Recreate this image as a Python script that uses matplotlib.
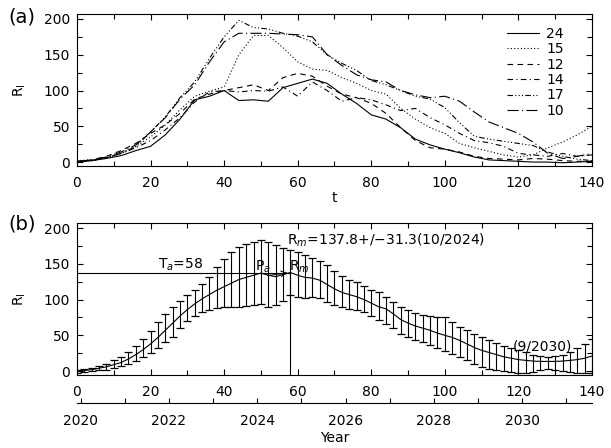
import numpy as np
import matplotlib
matplotlib.use("Agg")
import matplotlib.pyplot as plt
from matplotlib.ticker import MultipleLocator, FixedLocator, NullLocator

# ---------------- data: panel (a) ----------------
t_a = np.arange(0, 141, 4)
c24 = [0, 2, 5, 9, 16, 22, 38, 60, 87, 92, 100, 86, 87, 85, 104, 110, 116, 110,
       95, 82, 66, 60, 48, 32, 24, 18, 13, 7, 3, 2, 1, 0, 0, -1, 0, 1]
c15 = [2, 3, 6, 12, 22, 35, 52, 73, 92, 99, 105, 150, 177, 177, 160, 140, 130, 128,
       118, 110, 100, 95, 75, 60, 48, 40, 26, 20, 15, 10, 7, 10, 20, 28, 38, 50]
c12 = [1, 3, 8, 16, 26, 40, 52, 68, 88, 95, 100, 104, 108, 100, 118, 124, 120, 106,
       95, 90, 82, 68, 48, 30, 20, 18, 14, 8, 5, 4, 3, 5, 4, 2, 1, 1]
c14 = [0, 2, 6, 12, 20, 30, 45, 62, 84, 98, 100, 98, 100, 99, 105, 92, 112, 100,
       85, 90, 87, 80, 72, 75, 62, 52, 40, 30, 27, 22, 12, 10, 8, 12, 8, 10]
c17 = [0, 2, 6, 12, 22, 42, 63, 90, 112, 145, 175, 198, 188, 186, 180, 176, 168, 150,
       138, 128, 114, 108, 100, 92, 88, 76, 55, 36, 32, 29, 26, 23, 14, 8, 4, 2]
c10 = [1, 3, 7, 14, 24, 42, 62, 88, 108, 140, 168, 180, 180, 180, 179, 178, 175, 150,
       135, 122, 115, 112, 100, 94, 90, 92, 85, 70, 56, 48, 40, 28, 12, 5, 8, 12]
cycle_labels = ["24", "15", "12", "14", "17", "10"]

# ---------------- data: panel (b) ----------------
t_b = np.arange(0, 141, 2)
mean_b = [0, 1, 2, 4, 6, 9, 12, 17, 23, 30, 38, 47, 57, 67, 77, 86, 94, 101, 107, 113,
          118, 123, 128, 131, 134, 137, 134, 132, 135, 137.8, 134, 131, 130, 127, 121, 115,
          110, 107, 104, 100, 95, 90, 87, 80, 72, 67, 63, 60, 57, 53, 50, 47, 43, 38, 33,
          29, 26, 23, 20, 18, 16, 15, 14, 13.5, 13.5, 13.5, 14, 15, 16, 18, 21]
upper_b = [2, 3, 5, 7, 10, 15, 20, 27, 35, 45, 56, 68, 80, 90, 98, 106, 113, 122, 132, 145,
           156, 166, 174, 178, 181, 183, 180, 176, 172, 169.1, 166, 162, 158, 154, 148, 140,
           133, 128, 124, 119, 114, 110, 104, 96, 89, 85, 81, 79, 77, 76, 75, 68, 62, 57, 52,
           47, 43, 39, 35, 32, 29, 26, 23, 21, 20, 21, 23, 27, 32, 38, 45]
lower_b = [-2, -1, 0, 1, 2, 5, 7, 10, 14, 19, 25, 32, 40, 48, 60, 70, 77, 82, 86, 88,
           89, 89, 90, 91, 92, 94, 90, 92, 98, 106.5, 104, 102, 104, 102, 97, 92,
           89, 87, 85, 82, 77, 72, 66, 60, 52, 48, 44, 41, 37, 32, 28, 24, 20, 15, 10,
           6, 3, 1, 0, -1, -2, -2, -1, 1, 3, 2, 0, -1, -2, -3, -3]
Ta = 58
Rm = 137.8
dRm = 31.3
Pa_t, Pa_R = 51, 133

years = np.arange(2020, 2032)

# ---------------- figure ----------------
fig = plt.figure(figsize=(6.11, 4.48), dpi=100)
axa = fig.add_axes([0.1260, 0.6295, 0.8429, 0.3393])
axb = fig.add_axes([0.1260, 0.1629, 0.8429, 0.3393])

styles = ["-", (0, (1, 2)), (0, (5, 4)), (0, (5, 3, 1, 3)),
          (0, (5, 2, 1, 2, 1, 2, 1, 2)), (0, (10, 3, 1, 3))]
for series, lab, ls in zip([c24, c15, c12, c14, c17, c10], cycle_labels, styles):
    axa.plot(t_a, series, color="black", lw=0.8, linestyle=ls, label=lab)

axa.legend(loc="upper right", bbox_to_anchor=(0.945, 0.915), frameon=False,
           fontsize=10, handlelength=2.3, handletextpad=0.5, labelspacing=0.1,
           borderpad=0, borderaxespad=0)

mean_arr = np.array(mean_b)
yerr = [mean_arr - np.array(lower_b), np.array(upper_b) - mean_arr]
axb.errorbar(t_b, mean_b, yerr=yerr, color="black", lw=0.8, elinewidth=0.8,
             capsize=3.2, capthick=0.9)

axb.plot([0, Ta], [Rm, Rm], color="black", lw=0.8)
axb.plot([Ta, Ta], [-6, Rm], color="black", lw=0.8)
axb.annotate("", xy=(Ta, Rm), xytext=(Pa_t, Pa_R),
             arrowprops=dict(arrowstyle="->", lw=0.7, color="black"))
axb.text(22, 148, r"T$_a$=58", fontsize=10, va="center")
axb.text(48.5, 146, r"P$_a$", fontsize=10, va="center")
axb.text(57.5, 146, r"R$_m$", fontsize=10, va="center")
axb.text(57, 183, r"R$_m$=137.8+/−31.3(10/2024)", fontsize=10, va="center")
axb.text(118.5, 34, "(9/2030)", fontsize=10, va="center")

for ax in (axa, axb):
    ax.set_xlim(0, 140)
    ax.set_ylim(-5.5, 207)
    ax.xaxis.set_major_locator(MultipleLocator(20))
    ax.xaxis.set_minor_locator(MultipleLocator(10))
    ax.yaxis.set_major_locator(MultipleLocator(50))
    ax.yaxis.set_minor_locator(MultipleLocator(25))
    ax.tick_params(which="both", direction="in", top=True, right=True,
                   labelsize=10, width=0.8)
    ax.tick_params(which="major", length=4.5)
    ax.tick_params(which="minor", length=3.5)
    ax.tick_params(axis="x", pad=7.5)
    ax.tick_params(axis="y", pad=5)
    for s in ax.spines.values():
        s.set_linewidth(0.8)
    ax.set_ylabel(r"$\mathrm{R_I}$", fontsize=10)
    ax.yaxis.set_label_coords(-0.095, 0.5)

axa.set_xlabel("t", fontsize=10)
axa.xaxis.set_label_coords(0.5, -0.165)

# year axis
axy = fig.add_axes([0.1260, 1 - 403 / 448, 0.8429, 1e-4])
axy.set_xlim(0, 140)
axy.patch.set_visible(False)
for side in ("top", "left", "right"):
    axy.spines[side].set_visible(False)
axy.spines["bottom"].set_linewidth(0.8)
axy.yaxis.set_major_locator(NullLocator())
year_t = 1 + 12 * (years - 2020)
axy.xaxis.set_major_locator(FixedLocator(year_t[::2]))
axy.xaxis.set_minor_locator(FixedLocator(year_t[1::2]))
axy.set_xticklabels([str(y) for y in years[::2]])
axy.tick_params(which="both", direction="in", length=3.5, width=0.8,
                labelsize=10, pad=8)
fig.text(0.5475, 1 - 438 / 448, "Year", ha="center", va="center", fontsize=10)

fig.text(0.013, 0.962, "(a)", fontsize=14, va="center", ha="left")
fig.text(0.013, 0.500, "(b)", fontsize=14, va="center", ha="left")

fig.savefig("out.png", dpi=100)
